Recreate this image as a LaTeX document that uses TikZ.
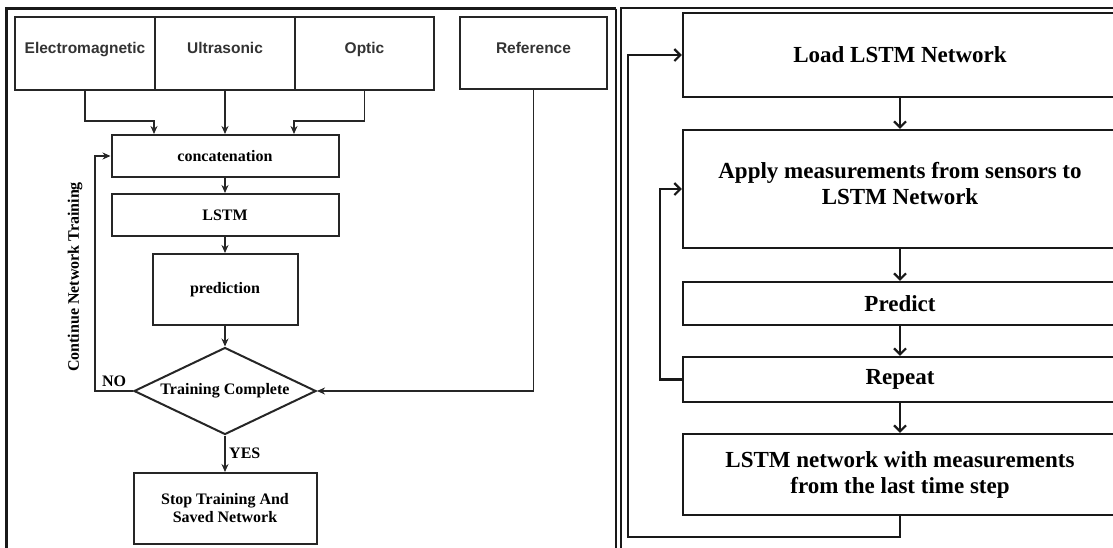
\documentclass[tikz,border=0pt]{standalone}
\usepackage{fontspec}
\setmainfont{Liberation Serif}
\setsansfont{Liberation Sans}
\usetikzlibrary{shapes.geometric,arrows.meta}

\begin{document}
\begin{tikzpicture}[x=1pt,y=-1pt,
    lbox/.style={draw=black!85, line width=2pt, inner sep=0pt,
      font=\fontsize{16}{18}\selectfont\bfseries},
    sbox/.style={lbox, font=\sffamily\fontsize{15.5}{18}\selectfont\bfseries,
      text=black!80, minimum height=73pt, text height=11pt, text depth=12pt},
    rbox/.style={draw=black!90, line width=2.3pt, inner sep=0pt,
      minimum width=434pt, align=center,
      font=\fontsize{23}{26}\selectfont\bfseries},
    la/.style={-{Stealth[length=8pt,width=7pt]}, line width=1.8pt,
      draw=black!85},
    ra/.style={-{Straight Barb[length=6pt,width=12pt]}, line width=2.2pt,
      draw=black!90},
    lbl/.style={font=\fontsize{16}{18}\selectfont\bfseries}]
  \useasboundingbox (0,0) rectangle (1113,547);
  \clip (0,0) rectangle (1113,547);
  % panel frames
  \draw[line width=2.5pt, line join=miter, black!90]
    (6.5,600) -- (6.5,8.5) -- (616,8.5);
  \draw[line width=1.5pt, black!90] (616,8.5) -- (616,600);
  \draw[line width=2.5pt, line join=miter, black!90]
    (621,600) -- (621,8) -- (1130,8);
  % training
    \node[sbox, minimum width=140pt] (E) at (85,53.5)
    {Electromagnetic}; \node[sbox, minimum width=140pt] (U) at (225,53.5)
    {Ultrasonic}; \node[sbox, minimum width=139pt] (O) at (364.5,53.5)
    {Optic}; \node[sbox, minimum width=147pt, minimum height=72pt, text depth=10pt] (R) at (533.5,53)
    {Reference};
    \node[lbox, minimum width=227pt, minimum height=42pt] (C) at (225,156)
    {concatenation}; \node[lbox, minimum width=227pt, minimum height=42pt] (L) at (225,215)
    {LSTM}; \node[lbox, minimum width=145pt, minimum height=71pt] (P) at (225,289.5)
    {prediction}; \node[lbox, diamond, aspect=2.1, minimum width=182pt,
      minimum height=87pt] (D) at (225,391)
    {Training Complete}; \node[lbox, align=center, minimum width=183pt,
      minimum height=71pt] (S) at (225,508.5)
    {Stop Training And\\Saved Network};
    \node[lbl, rotate=90] (T) at (75,277)
    {Continue Network Training};
    \draw[la] (E.south) -- ++(0,30) -| (C.north -| U.west);
    \draw[la] (U.south) -- (C.north);
    \draw[la] (O.south) -- ++(0,30) -| (C.north -| O.west);
    \draw[la] (C) -- (L);
    \draw[la] (L) -- (P);
    \draw[la] (P) -- (D);
    \draw[la] (D.south) -- node[lbl, right] (Y) {YES} (S.north);
    \draw[la] (D.west) -- node[lbl, above] (N) {NO} ++(-38,0) |- (C.west);
    \draw[la] (R.south) |- (D.east);
  % testing
    \node[rbox, minimum height=84pt] (LD) at (900,55)
    {Load LSTM Network}; \node[rbox, minimum height=118pt] (AP) at (900,189)
    {Apply measurements from sensors to\\LSTM Network\\[-14pt]}; \node[rbox, minimum height=43pt] (PR) at (900,303.5)
    {Predict}; \node[rbox, minimum height=45pt] (RP) at (900,379.5)
    {Repeat}; \node[rbox, minimum height=81pt] (FN) at (900,474.5)
    {LSTM network with measurements\\from the last time step};
    \draw[ra] (LD) -- (AP);
    \draw[ra] (AP) -- (PR);
    \draw[ra] (PR) -- (RP);
    \draw[ra] (RP) -- (FN);
    \draw[ra] (RP.west) -- ++(-22,0) |- (AP.west);
    \draw[ra] (FN.south) -- ++(0,21) -| ([xshift=-54pt]LD.west) -- (LD.west);
  \end{tikzpicture}
\end{document}
